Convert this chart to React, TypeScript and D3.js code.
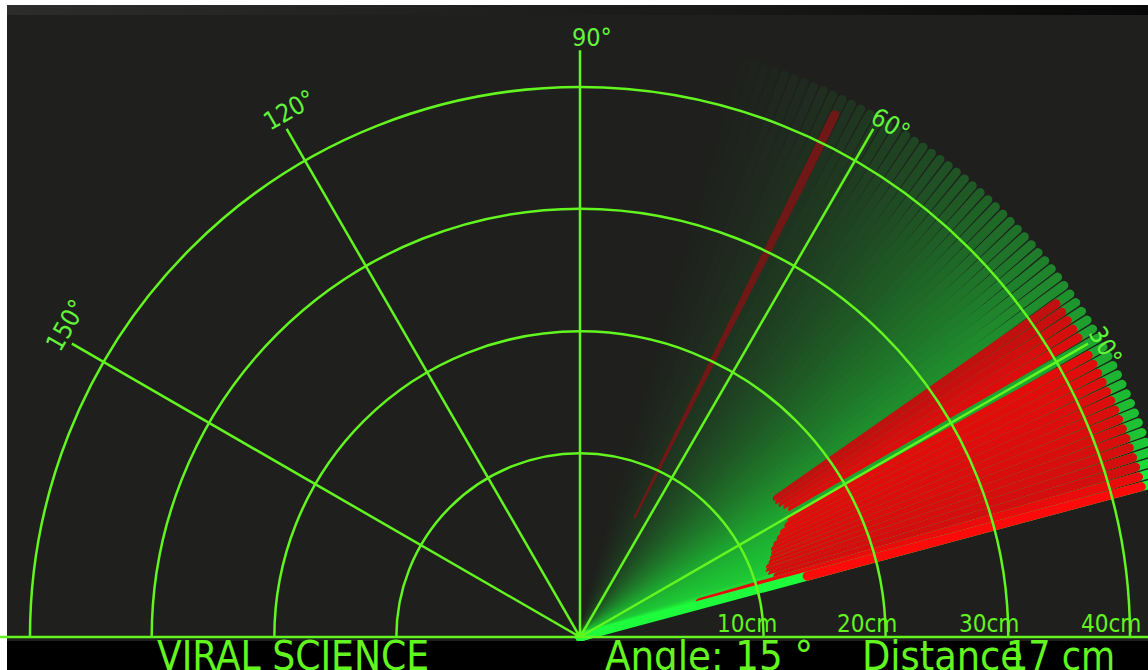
import * as d3 from "d3";
import React, { useEffect, useRef } from "react";

// sweep history, newest first (degrees / cm, null = nothing in range)
const scanAngles = [
  15, 16, 17, 18, 19, 20, 21, 22, 23, 24, 25, 26, 27, 28, 29, 30, 31, 32, 33, 34, 35,
  36, 37, 38, 39, 40, 41, 42, 43, 44, 45, 46, 47, 48, 49, 50, 51, 52, 53, 54, 55,
  56, 57, 58, 59, 60, 61, 62, 63, 64, 65, 66, 67, 68, 69, 70, 71, 72, 73, 74, 75,
];
const scanDistances: (number | null)[] = [
  16.6, 8.8, 14.6, 14.3, 14.2, 14.3, 14.6, 14.8, 15.0, 15.1, 15.4, 15.8, 16.2, 16.7, 17.1, null, 17.5, 17.3, 17.1, 17.0, 17.0,
  null, null, null, null, null, null, null, null, null, null, null, null, null, null, null, null, null, null, null, null,
  null, null, null, null, null, null, null, null, 9.4, null, null, null, null, null, null, null, null, null, null, null,
];

const ringLabels = ["10cm", "20cm", "30cm", "40cm"];
const spokeAngles = [30, 60, 90, 120, 150];
const spokeLabels = ["30°", "60°", "90°", "120°", "150°"];
const currentAngle = 15;
const currentDistance = 17;
const title = "VIRAL SCIENCE";

const WIDTH = 1148;
const HEIGHT = 670;

const App: React.FC = () => {
  const svgRef = useRef<SVGSVGElement | null>(null);

  useEffect(() => {
    if (!svgRef.current) {
      return;
    }
    const svg = d3.select(svgRef.current);
    svg.selectAll("*").remove();

    const bg = "#1f201d";
    const gridColor = "rgb(98,245,31)";
    const labelColor = "rgb(98,245,60)";
    const sweepGreen = "rgb(30,250,60)";
    const sweepRed = "rgb(255,10,10)";
    const font = "'DejaVu Sans Condensed', 'DejaVu Sans', sans-serif";

    // processing sketch was ~1173px wide; centre sits on the base line
    const W = 1173.4;
    const cx = 580;
    const cy = 637;

    const rad = d3.scaleLinear().domain([0, 180]).range([0, Math.PI]);
    const dist = d3.scaleLinear().domain([0, 40]).range([0, 566.8]);
    // how much of a trace is left after the sweep moved on (age in degrees)
    const fadeGreen = d3
      .scaleLinear()
      .domain([0, 3, 15, 25, 35, 45, 55, 60])
      .range([1, 0.78, 0.62, 0.42, 0.25, 0.12, 0.03, 0])
      .clamp(true);
    const fadeRed = d3.scaleLinear().domain([0, 2, 15, 20, 49, 60]).range([1, 0.8, 0.88, 0.72, 0.36, 0]).clamp(true);

    const px = (a: number, r: number) => cx + r * Math.cos(rad(a));
    const py = (a: number, r: number) => cy - r * Math.sin(rad(a));

    // page + screen background
    svg.append("rect").attr("width", WIDTH).attr("height", HEIGHT).attr("fill", "#fff");
    svg.append("rect").attr("x", 7).attr("y", 5).attr("width", WIDTH - 7).attr("height", HEIGHT - 5).attr("fill", bg);

    const topGrad = svg.append("defs").append("linearGradient").attr("id", "topband");
    topGrad.append("stop").attr("offset", "0%").attr("stop-color", "#2c2d2a");
    topGrad.append("stop").attr("offset", "60%").attr("stop-color", "#1a1a18");
    topGrad.append("stop").attr("offset", "100%").attr("stop-color", "#080808");
    svg.append("rect").attr("x", 7).attr("y", 5).attr("width", WIDTH - 7).attr("height", 10).attr("fill", "url(#topband)");

    // sweep trail, oldest drawn first so newer lines cover it
    const sweep = svg.append("g").attr("stroke-width", 9).attr("stroke-linecap", "round");
    const scans = scanAngles.map((a, i) => ({ angle: a, d: scanDistances[i] })).reverse();

    scans.forEach(s => {
      const age = s.angle - currentAngle;
      const kg = fadeGreen(age);
      const kr = fadeRed(age);
      if (kg > 0) {
        sweep
          .append("line")
          .attr("x1", cx)
          .attr("y1", cy)
          .attr("x2", px(s.angle, 598))
          .attr("y2", py(s.angle, 598))
          .attr("stroke", d3.interpolateRgb(bg, sweepGreen)(kg));
      }
      if (s.d !== null && kr > 0) {
        sweep
          .append("line")
          .attr("x1", px(s.angle, dist(s.d)))
          .attr("y1", py(s.angle, dist(s.d)))
          .attr("x2", px(s.angle, 581))
          .attr("y2", py(s.angle, 581))
          .attr("stroke", d3.interpolateRgb(bg, sweepRed)(kr));
      }
    });

    // radar grid
    const grid = svg.append("g").attr("stroke", gridColor).attr("stroke-width", 2.5).attr("fill", "none");
    [0.1565, 0.2605, 0.365, 0.46875].forEach(f => {
      const p = d3.path();
      p.arc(cx, cy, f * W, Math.PI, 2 * Math.PI);
      grid.append("path").attr("d", p.toString());
    });
    grid.append("line").attr("x1", 0).attr("y1", cy).attr("x2", WIDTH).attr("y2", cy);
    grid
      .selectAll(".spoke")
      .data(spokeAngles)
      .enter()
      .append("line")
      .attr("x1", cx)
      .attr("y1", cy)
      .attr("x2", d => px(d, W / 2))
      .attr("y2", d => py(d, W / 2));

    // distance labels
    const ringX = [717, 837, 959, 1081];
    svg
      .selectAll(".ringlabel")
      .data(ringLabels)
      .enter()
      .append("text")
      .attr("x", (_, i) => ringX[i])
      .attr("y", 632)
      .attr("fill", gridColor)
      .attr("font-family", font)
      .attr("font-size", 24)
      .text(d => d);

    // angle labels
    const spokePos: [number, number, number][] = [
      [1088, 333, 60],
      [869, 122, 30],
      [572, 46, 0],
      [270, 131, -30],
      [60, 353, -60],
    ];
    svg
      .selectAll(".spokelabel")
      .data(spokeLabels)
      .enter()
      .append("text")
      .attr("transform", (_, i) => `translate(${spokePos[i][0]},${spokePos[i][1]}) rotate(${spokePos[i][2]})`)
      .attr("fill", labelColor)
      .attr("font-family", font)
      .attr("font-size", 25)
      .text(d => d);

    // status bar
    svg.append("rect").attr("x", 7).attr("y", 641).attr("width", WIDTH - 7).attr("height", HEIGHT - 641).attr("fill", "#000");
    const status = svg.append("g").attr("fill", gridColor).attr("font-family", font).attr("font-size", 40);
    status.append("text").attr("x", 157).attr("y", 670).attr("textLength", 272).attr("lengthAdjust", "spacingAndGlyphs").text(title);
    status
      .append("text")
      .attr("x", 605)
      .attr("y", 670)
      .attr("textLength", 208)
      .attr("lengthAdjust", "spacingAndGlyphs")
      .text(`Angle: ${currentAngle} °`);
    status.append("text").attr("x", 862).attr("y", 670).attr("textLength", 161).attr("lengthAdjust", "spacingAndGlyphs").text("Distance");
    status
      .append("text")
      .attr("x", 1006)
      .attr("y", 670)
      .attr("textLength", 109)
      .attr("lengthAdjust", "spacingAndGlyphs")
      .text(`${currentDistance} cm`);
  }, []);

  return <svg ref={svgRef} width={WIDTH} height={HEIGHT} style={{ position: "absolute", left: 0, top: 0 }} />;
};

export default App;
